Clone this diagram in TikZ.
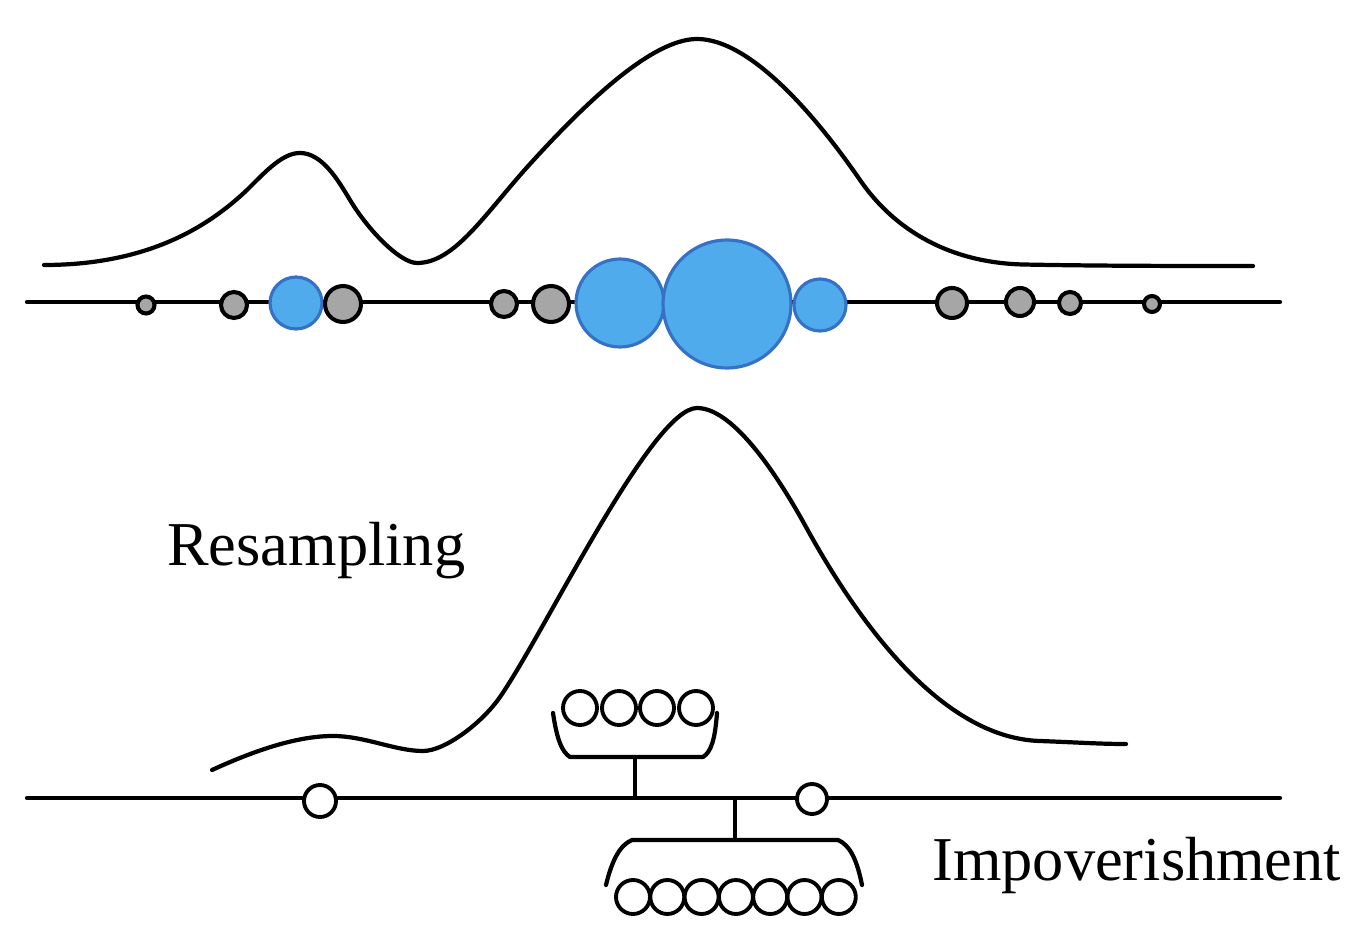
\documentclass[tikz,border=0pt]{standalone}
\usepackage{fontspec}
\setmainfont{Liberation Serif}
\definecolor{pblue}{HTML}{4FABEB}
\definecolor{pbluedark}{HTML}{3572C6}
\definecolor{pgray}{HTML}{A6A6A6}
\tikzset{
  curve/.style={line width=2.4pt, line cap=round, line join=round},
  axis/.style={line width=2.4pt, line cap=round},
  gp/.style={circle, draw=black, fill=pgray, line width=2.3pt, inner sep=0pt, minimum size=#1*0.04cm},
  bp/.style={circle, draw=pbluedark, fill=pblue, line width=1.8pt, inner sep=0pt, minimum size=#1*0.04cm},
  wp/.style={circle, draw=black, fill=white, line width=2.2pt, inner sep=0pt, minimum size=#1*0.04cm},
  lbl/.style={font=\fontsize{35.5}{40}\selectfont, inner sep=0pt},
}
\begin{document}
\begin{tikzpicture}[x=0.02cm, y=-0.02cm]
\useasboundingbox (0,0) rectangle (1370,942);
% ---------- top panel ----------
\draw[curve] (44,265) .. controls (150,265) and (210,225) .. (247,190)
  .. controls (267,170) and (283,153) .. (300,153)
  .. controls (322,153) and (338,180) .. (350,200)
  .. controls (368,230) and (400,263) .. (417,263)
  .. controls (455,263) and (485,213.5) .. (530,164)
  .. controls (580,109) and (650,39) .. (697,39)
  .. controls (750,39) and (815,114.75) .. (860,180)
  .. controls (900,238) and (960,263) .. (1023,264.5)
  .. controls (1100,266) and (1180,266) .. (1253,266);
\coordinate (tl) at (27,302);
\coordinate (tr) at (1280,302);
\draw[axis] (tl) -- (tr);
\node[gp=8.5] (g1) at (146,305) {};
\node[gp=13] (g2) at (234,305) {};
\node[bp=26] (b1) at (296,303) {};
\node[gp=18] (g3) at (343,304) {};
\node[gp=13] (g4) at (504,304) {};
\node[gp=18] (g5) at (551,304) {};
\node[bp=44] (b2) at (620,303) {};
\node[bp=64] (b3) at (727,304) {};
\node[bp=26] (b4) at (820,305) {};
\node[gp=15] (g6) at (952,303) {};
\node[gp=14] (g7) at (1020,302) {};
\node[gp=11] (g8) at (1070,303) {};
\node[gp=8] (g9) at (1152,304) {};
% ---------- bottom panel ----------
\draw[curve] (212,770) .. controls (260,748) and (300,736) .. (333,736)
  .. controls (365,736) and (395,751) .. (423,751)
  .. controls (445,751) and (482,723) .. (500,697)
  .. controls (545,632) and (652,408) .. (697,408)
  .. controls (735,408) and (781,481.5) .. (806,527)
  .. controls (856,618) and (940,738) .. (1040,741)
  .. controls (1080,742.5) and (1100,744) .. (1126,744);
\coordinate (bl) at (27,798);
\coordinate (br) at (1280,798);
\draw[axis] (bl) -- (br);
\node[wp=16] (w1) at (320,801) {};
\node[wp=15] (w2) at (812,799) {};
% upper cluster
\coordinate (ua) at (635,798);
\coordinate (ub) at (635,757);
\draw[axis, line cap=butt] (ua) -- (ub);
\draw[curve] (553,713) .. controls (557,740) and (562,752) .. (570,757) -- (703,757)
  .. controls (711,752) and (715,740) .. (717,713);
\foreach \i/\x in {1/580,2/619,3/657,4/696}
  \node[wp=17] (u\i) at (\x,708) {};
% lower cluster
\coordinate (la) at (735,798);
\coordinate (lb) at (735,840);
\draw[axis, line cap=butt] (la) -- (lb);
\draw[curve] (606,885) .. controls (612,860) and (620,845) .. (632,840) -- (838,840)
  .. controls (850,845) and (857,860) .. (862,885);
\foreach \i/\x in {1/633,2/667.3,3/701.6,4/735.9,5/770.2,6/804.5,7/838.8}
  \node[wp=17] (l\i) at (\x,897) {};
% labels
\node[lbl, anchor=base west] (res) at (167,565) {Resampling};
\node[lbl, anchor=base west] (imp) at (932,880) {Impoverishment};
\end{tikzpicture}
\end{document}
